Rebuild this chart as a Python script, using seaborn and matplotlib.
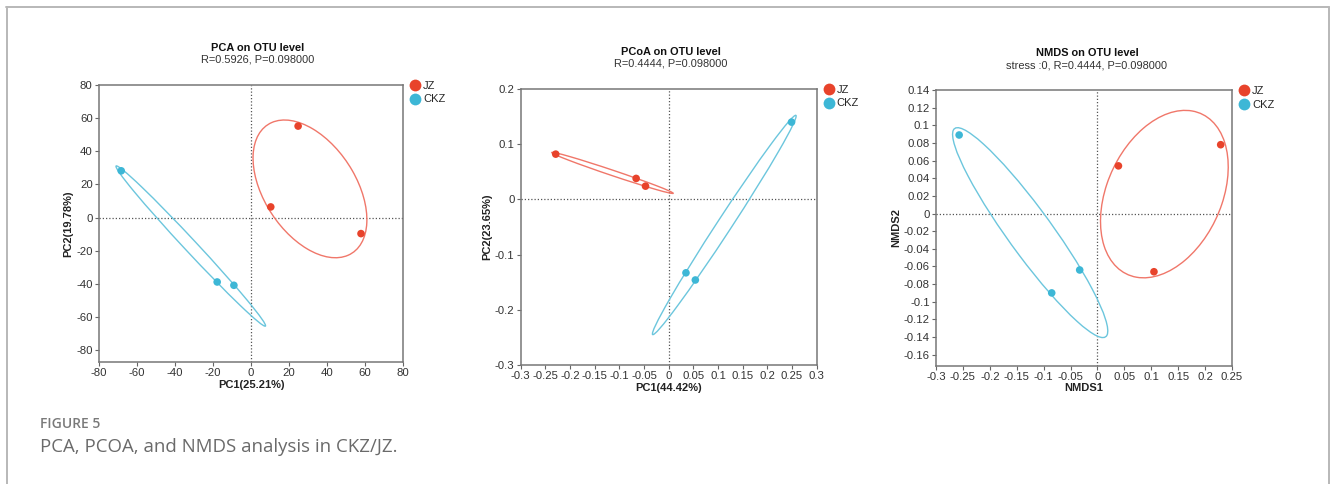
import numpy as np
import pandas as pd
import seaborn as sns
import matplotlib.pyplot as plt
from matplotlib.patches import Ellipse
from matplotlib.lines import Line2D

# data
groups = ['JZ', 'CKZ']

pca_jz_x = [24.8, 10.4, 57.9]
pca_jz_y = [55.2, 6.4, -9.7]
pca_ckz_x = [-68.3, -17.8, -9.0]
pca_ckz_y = [28.2, -38.9, -40.9]

pcoa_jz_x = [-0.229, -0.066, -0.047]
pcoa_jz_y = [0.082, 0.038, 0.024]
pcoa_ckz_x = [0.249, 0.035, 0.054]
pcoa_ckz_y = [0.140, -0.133, -0.146]

nmds_jz_x = [0.039, 0.229, 0.105]
nmds_jz_y = [0.054, 0.078, -0.066]
nmds_ckz_x = [-0.257, -0.033, -0.085]
nmds_ckz_y = [0.089, -0.064, -0.090]

titles = ['PCA on OTU level', 'PCoA on OTU level', 'NMDS on OTU level']
subtitles = ['R=0.5926, P=0.098000', 'R=0.4444, P=0.098000',
             'stress :0, R=0.4444, P=0.098000']
xlabels = ['PC1(25.21%)', 'PC1(44.42%)', 'NMDS1']
ylabels = ['PC2(19.78%)', 'PC2(23.65%)', 'NMDS2']

pca_xticks = [-80, -60, -40, -20, 0, 20, 40, 60, 80]
pca_yticks = [-80, -60, -40, -20, 0, 20, 40, 60, 80]
pcoa_xticks = [-0.3, -0.25, -0.2, -0.15, -0.1, -0.05, 0, 0.05, 0.1, 0.15, 0.2, 0.25, 0.3]
pcoa_yticks = [-0.3, -0.2, -0.1, 0, 0.1, 0.2]
nmds_xticks = [-0.3, -0.25, -0.2, -0.15, -0.1, -0.05, 0, 0.05, 0.1, 0.15, 0.2, 0.25]
nmds_yticks = [-0.16, -0.14, -0.12, -0.1, -0.08, -0.06, -0.04, -0.02, 0,
               0.02, 0.04, 0.06, 0.08, 0.1, 0.12, 0.14]

point_colors = {'JZ': '#E8432B', 'CKZ': '#3DB7D6'}
line_colors = {'JZ': '#F0776A', 'CKZ': '#6CC6DD'}

sns.set_style('white')
plt.rcParams['font.family'] = ['Liberation Sans', 'DejaVu Sans']
plt.rcParams['axes.unicode_minus'] = False

W, H = 1330, 484
fig = plt.figure(figsize=(W / 100, H / 100), dpi=100)


def frac(left, top, right, bottom):
    return [left / W, 1 - bottom / H, (right - left) / W, (bottom - top) / H]


def make_df(jx, jy, cx, cy):
    return pd.DataFrame({
        'x': jx + cx,
        'y': jy + cy,
        'group': ['JZ'] * len(jx) + ['CKZ'] * len(cx),
    })


def conf_ellipse(ax, xs, ys, color, k=1.23):
    xs, ys = np.asarray(xs), np.asarray(ys)
    cov = np.cov(xs, ys)
    vals, vecs = np.linalg.eigh(cov)
    order = vals.argsort()[::-1]
    vals, vecs = vals[order], vecs[:, order]
    angle = np.degrees(np.arctan2(vecs[1, 0], vecs[0, 0]))
    e = Ellipse((xs.mean(), ys.mean()), 2 * k * np.sqrt(vals[0]),
                2 * k * np.sqrt(vals[1]), angle=angle,
                facecolor='none', edgecolor=color, lw=1.0, zorder=2)
    ax.add_patch(e)


panels = [
    (frac(99, 85, 403, 362), make_df(pca_jz_x, pca_jz_y, pca_ckz_x, pca_ckz_y),
     (-80, 80), (-87.2, 80), pca_xticks, pca_yticks, 258),
    (frac(520.7, 89, 816.7, 365), make_df(pcoa_jz_x, pcoa_jz_y, pcoa_ckz_x, pcoa_ckz_y),
     (-0.3, 0.3), (-0.3, 0.2), pcoa_xticks, pcoa_yticks, 671),
    (frac(936, 90, 1232, 365.7), make_df(nmds_jz_x, nmds_jz_y, nmds_ckz_x, nmds_ckz_y),
     (-0.3, 0.25), (-0.1725, 0.14), nmds_xticks, nmds_yticks, 1087),
]

for i, (rect, df, xlim, ylim, xt, yt, tx) in enumerate(panels):
    ax = fig.add_axes(rect)
    ax.axvline(0, color='#555555', lw=0.9, ls=(0, (1, 1.6)), zorder=1)
    ax.axhline(0, color='#555555', lw=0.9, ls=(0, (1, 1.6)), zorder=1)
    for g in groups:
        sub = df[df['group'] == g]
        conf_ellipse(ax, sub['x'], sub['y'], line_colors[g])
    sns.scatterplot(data=df, x='x', y='y', hue='group', hue_order=groups,
                    palette=point_colors, s=30, edgecolor='none', ax=ax, zorder=3)
    ax.set_xlim(*xlim)
    ax.set_ylim(*ylim)
    ax.set_xticks(xt)
    ax.set_yticks(yt)
    ax.set_xticklabels([f'{v:g}' for v in xt])
    ax.set_yticklabels([f'{v:g}' for v in yt])
    ax.tick_params(direction='out', length=3, width=0.8, color='#666666',
                   labelsize=8.2, labelcolor='#333333', pad=1.5,
                   bottom=True, left=True)
    for sp in ax.spines.values():
        sp.set_color('#777777')
        sp.set_linewidth(1.1)
    ax.set_xlabel(xlabels[i], fontsize=8, fontweight='bold', color='#222222', labelpad=1)
    ax.set_ylabel(ylabels[i], fontsize=8, fontweight='bold', color='#222222', labelpad=2)
    handles = [Line2D([], [], marker='o', ls='none', markersize=8.5,
                      markerfacecolor=point_colors[g], markeredgecolor='none') for g in groups]
    ax.legend(handles, groups, loc='upper left', bbox_to_anchor=(1.0, 1.03),
              frameon=False, fontsize=8, handletextpad=0.0, labelspacing=0.3,
              borderaxespad=0, handlelength=1.4)
    top_px = (1 - (rect[1] + rect[3])) * H
    fig.text(tx / W, 1 - (top_px - 37) / H, titles[i], ha='center', va='center',
             fontsize=7.9, fontweight='bold', color='#111111')
    fig.text(tx / W, 1 - (top_px - 25) / H, subtitles[i], ha='center', va='center',
             fontsize=7.9, color='#333333')

# caption
fig.text(40 / W, 1 - 424 / H, 'FIGURE 5', ha='left', va='center',
         fontsize=10, fontweight='semibold', color='#7a7a7a', family=['Open Sans', 'DejaVu Sans'])
fig.text(40 / W, 1 - 447 / H, 'PCA, PCOA, and NMDS analysis in CKZ/JZ.', ha='left', va='center',
         fontsize=13.4, color='#6a6a6a', family=['Open Sans', 'DejaVu Sans'])

# light frame around the figure
border = '#b8b8b8'
fig.add_artist(Line2D([6 / W, 1329 / W], [1 - 6.5 / H, 1 - 6.5 / H], color=border, lw=1.4))
fig.add_artist(Line2D([6.5 / W, 6.5 / W], [0, 1 - 6.5 / H], color=border, lw=1.4))
fig.add_artist(Line2D([1328.5 / W, 1328.5 / W], [0, 1 - 6.5 / H], color=border, lw=1.4))

fig.savefig('out.png', dpi=100)
